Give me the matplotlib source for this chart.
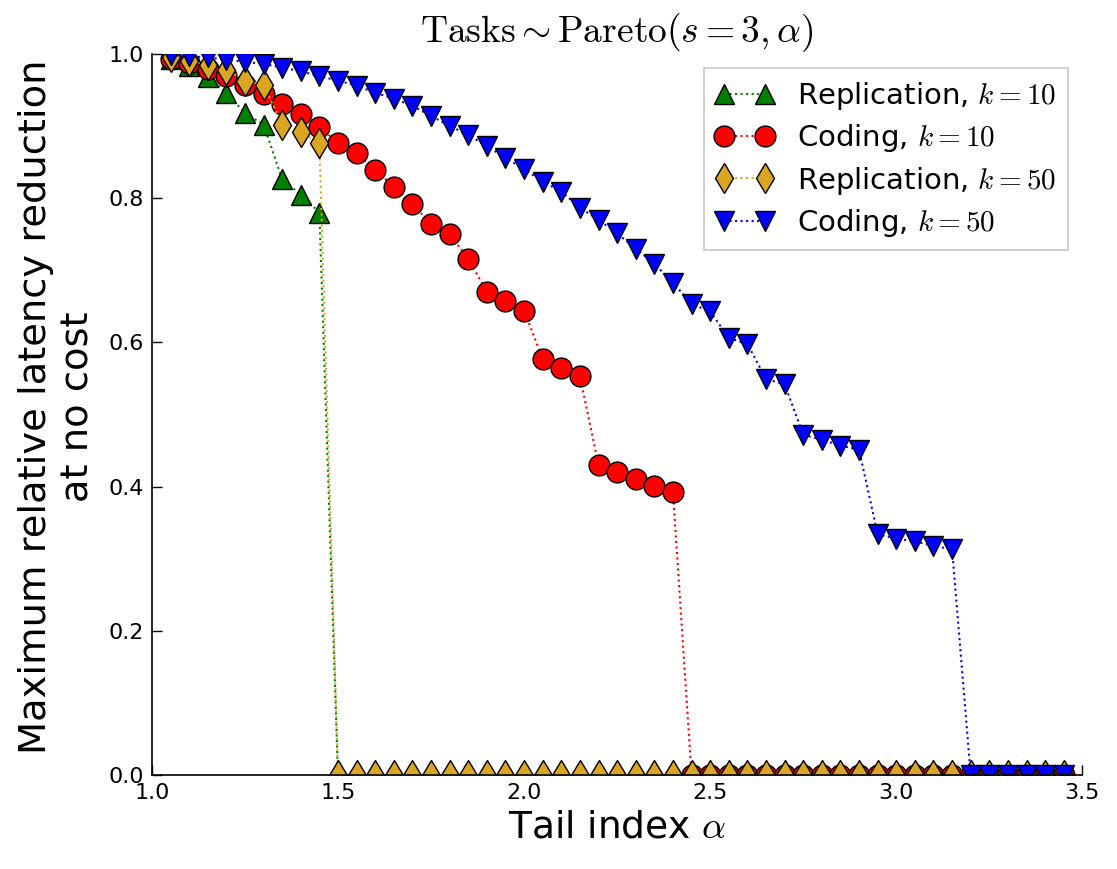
import numpy as np
import matplotlib
matplotlib.use("Agg")
import matplotlib.pyplot as plt

plt.rcParams['mathtext.fontset'] = 'cm'
plt.rcParams['font.family'] = ['DejaVu Sans']

alpha = np.round(np.arange(1.05, 3.4501, 0.05), 2)

rep_k10 = [0.993, 0.983, 0.968, 0.946, 0.918, 0.902, 0.826, 0.805, 0.780] + [0.0] * 40
cod_k10 = [0.993, 0.987, 0.979, 0.969, 0.957, 0.944, 0.930, 0.916, 0.898, 0.877,
           0.862, 0.839, 0.816, 0.792, 0.764, 0.750, 0.716, 0.670, 0.657, 0.644,
           0.577, 0.565, 0.553, 0.430, 0.420, 0.410, 0.401, 0.392] + [0.0] * 21
rep_k50 = [0.995, 0.990, 0.985, 0.978, 0.963, 0.957, 0.902, 0.891, 0.877] + [0.0] * 40
cod_k50 = [0.998, 0.997, 0.995, 0.992, 0.989, 0.986, 0.981, 0.976, 0.969, 0.963,
           0.956, 0.946, 0.938, 0.928, 0.914, 0.900, 0.888, 0.872, 0.856, 0.840,
           0.823, 0.809, 0.787, 0.770, 0.751, 0.730, 0.709, 0.683, 0.653, 0.643,
           0.606, 0.598, 0.549, 0.542, 0.472, 0.465, 0.457, 0.451, 0.334, 0.328,
           0.324, 0.318, 0.313] + [0.0] * 6

labels = [r'Replication, $k=10$', r'Coding, $k=10$', r'Replication, $k=50$', r'Coding, $k=50$']
series = [rep_k10, cod_k10, rep_k50, cod_k50]
colors = ['green', 'red', 'goldenrod', 'blue']
markers = ['^', 'o', 'd', 'v']

fig = plt.figure(figsize=(11.17, 8.69), dpi=100)
ax = fig.add_axes([0.136, 0.108, 0.833, 0.830])

for y, lab, c, m in zip(series, labels, colors, markers):
    ax.plot(alpha, y, linestyle=':', color=c, marker=m, markersize=15,
            markerfacecolor=c, markeredgecolor='black', markeredgewidth=1.0,
            linewidth=1.5, label=lab)

ax.set_xlim(1.0, 3.5)
ax.set_ylim(0.0, 1.0)
ax.set_xticks([1.0, 1.5, 2.0, 2.5, 3.0, 3.5])
ax.set_yticks([0.0, 0.2, 0.4, 0.6, 0.8, 1.0])
ax.spines['top'].set_visible(False)
ax.spines['right'].set_visible(False)
ax.tick_params(direction='in', length=7, width=1, labelsize=16, pad=6,
               top=False, right=False)
for sp in ax.spines.values():
    sp.set_linewidth(1.2)

ax.set_xlabel(r'Tail index $\alpha$', fontsize=27, labelpad=4)
ax.set_ylabel('Maximum relative latency reduction\nat no cost', fontsize=27.6)
ax.yaxis.set_label_coords(-0.060, 0.511)
ax.set_title(r'$\mathrm{Tasks} \sim \mathrm{Pareto}(s=3, \alpha)$', fontsize=27, pad=8)

leg = ax.legend(loc='upper right', fontsize=21, numpoints=2, fancybox=False,
                handlelength=2.0, borderaxespad=0.5, labelspacing=0.35,
                handletextpad=0.8)
leg.get_frame().set_edgecolor('#bbbbbb')
leg.get_frame().set_linewidth(1.2)

fig.savefig('out.png', dpi=100)
